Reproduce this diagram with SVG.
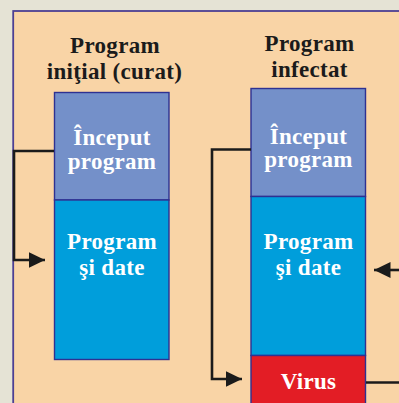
<svg xmlns="http://www.w3.org/2000/svg" width="399" height="403" viewBox="0 0 399 403">
<defs>
<style>
.t{font-family:"Liberation Serif","Times New Roman",serif;font-weight:bold;font-size:23px;letter-spacing:0.3px;text-anchor:middle}
.dark{fill:#1b1b1b}
.light{fill:#ffffff}
.blk{stroke:#2e3192;stroke-width:1.4}
.con{fill:none;stroke:#1b1b1b;stroke-width:2.6}
</style>
<marker id="arr" markerUnits="userSpaceOnUse" markerWidth="18" markerHeight="17" refX="16.5" refY="8" orient="auto" viewBox="0 0 18 17">
<path d="M0,0 L16.5,8 L0,16 Z" fill="#1b1b1b"/>
</marker>
</defs>
<rect x="0" y="0" width="399" height="403" fill="#e5e3d5"/>
<rect id="panel" x="13.2" y="11" width="420" height="420" fill="#f9d4a6" stroke="#4d3f93" stroke-width="1.8"/>
<g id="title-left">
<text class="t dark" x="115" y="52.5">Program</text>
<text class="t dark" x="114.5" y="78.5">iniţial (curat)</text>
</g>
<g id="title-right">
<text class="t dark" x="309.5" y="50.5">Program</text>
<text class="t dark" x="309.5" y="76.5">infectat</text>
</g>
<g id="left-start">
<rect class="blk" x="54.5" y="92.5" width="114.5" height="107.5" fill="#7490c9"/>
<text class="t light" x="112" y="145">Început</text>
<text class="t light" x="112" y="168.5">program</text>
</g>
<g id="left-data">
<rect class="blk" x="54.5" y="200" width="114.5" height="159.5" fill="#009edb"/>
<text class="t light" x="112" y="249">Program</text>
<text class="t light" x="112" y="275">şi date</text>
</g>
<g id="right-start">
<rect class="blk" x="251" y="88.5" width="114.5" height="108" fill="#7490c9"/>
<text class="t light" x="308.5" y="143.5">Început</text>
<text class="t light" x="308.5" y="167">program</text>
</g>
<g id="right-data">
<rect class="blk" x="251" y="196.5" width="114.5" height="159" fill="#009edb"/>
<text class="t light" x="308.5" y="248.5">Program</text>
<text class="t light" x="308.5" y="275">şi date</text>
</g>
<g id="virus">
<rect class="blk" x="251" y="355.5" width="114.5" height="60" fill="#e31d25"/>
<text class="t light" x="308.5" y="388.5">Virus</text>
</g>
<g id="connectors">
<path class="con" d="M54,151 H14 V260 H45" marker-end="url(#arr)"/>
<path class="con" d="M251,149.5 H212 V379 H242" marker-end="url(#arr)"/>
<path class="con" d="M399,270 H374" marker-end="url(#arr)"/>
<path class="con" d="M366,382.5 H399"/>
</g>
</svg>
